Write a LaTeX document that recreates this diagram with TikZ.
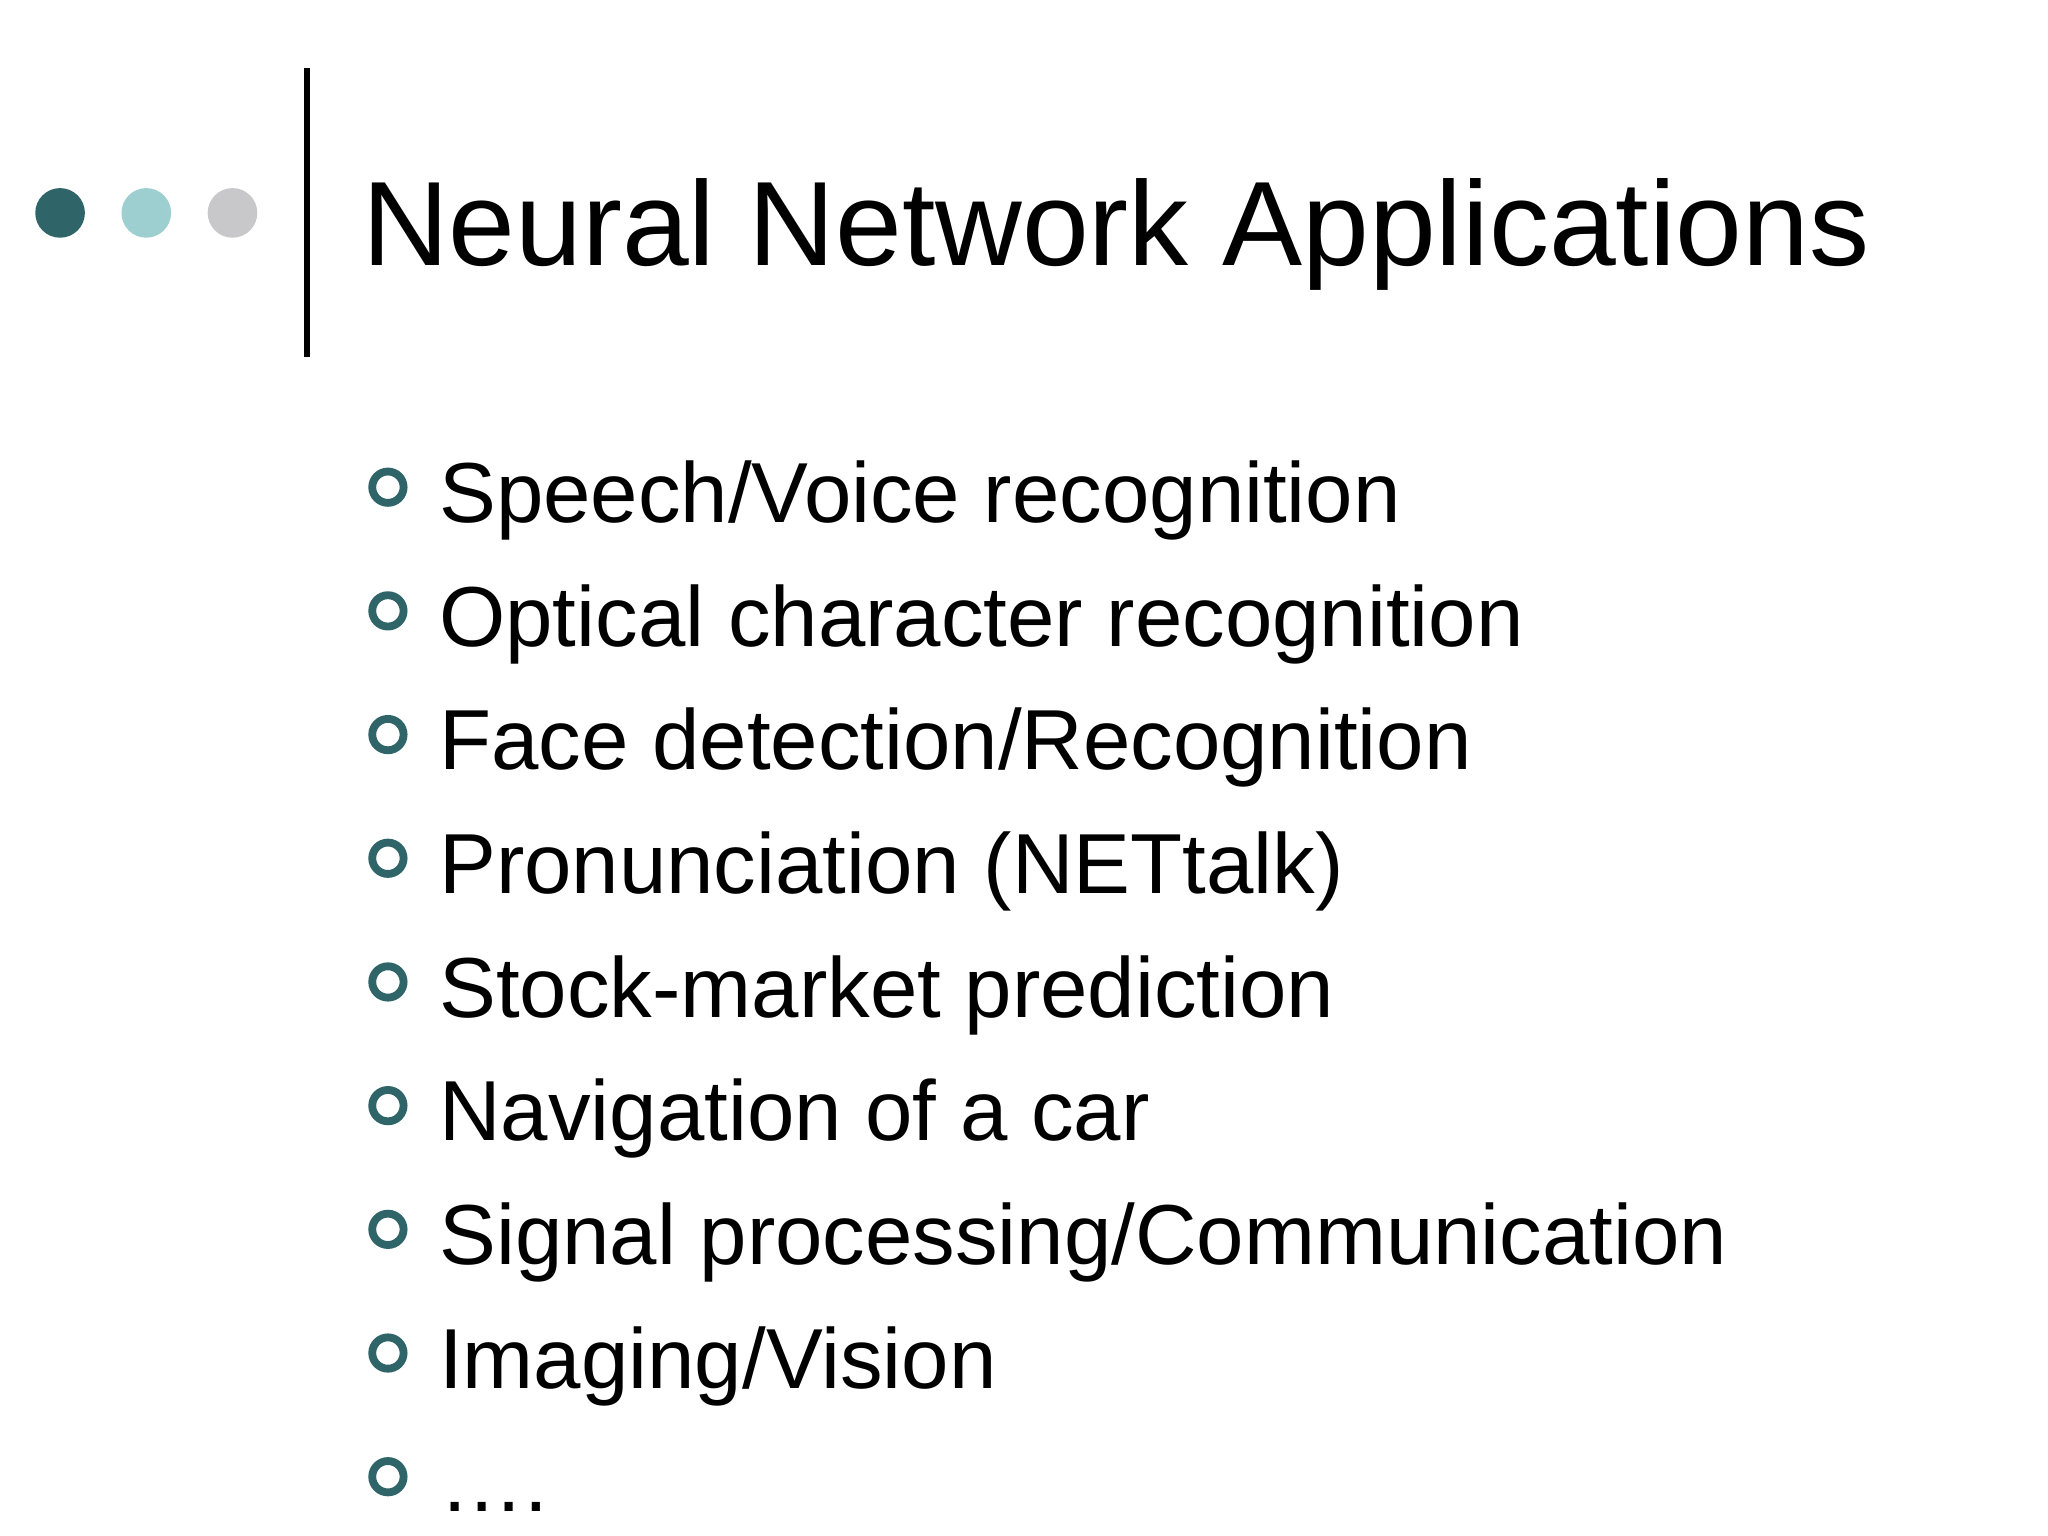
\documentclass[tikz,border=0pt]{standalone}
\usepackage{fontspec}
\setmainfont{Liberation Sans}
\definecolor{teal1}{HTML}{2F6468}
\definecolor{teal2}{HTML}{9DCFD0}
\definecolor{grey1}{HTML}{C8C8CA}
\begin{document}
\begin{tikzpicture}[x=0.653pt,y=-0.653pt,
  dot/.style={circle,inner sep=0pt,minimum size={38*0.653pt}},
  ring/.style={circle,draw=teal1,line width={6*0.653pt},inner sep=0pt,minimum size={24*0.653pt}},
  item/.style={anchor=base west,inner sep=0pt,font=\fontsize{42.6pt}{50pt}\selectfont}]
\path[use as bounding box,fill=white] (0,0) rectangle (1568,1176);
\clip (0,0) rectangle (1568,1176);
\node[dot,fill=teal1] (d1) at (46,163) {};
\node[dot,fill=teal2] (d2) at (112,163) {};
\node[dot,fill=grey1] (d3) at (178,163) {};
\draw[line width={5*0.653pt}] (235,52) -- (235,273);
\node[anchor=base west,inner sep=0pt,font=\fontsize{60pt}{70pt}\selectfont] (t) at (277,203) {Neural Network Applications};
\foreach \i/\s in {0/{Speech/Voice recognition},1/{Optical character recognition},2/{Face detection/Recognition},3/{Pronunciation (NETtalk)},4/{Stock-market prediction},5/{Navigation of a car},6/{Signal processing/Communication},7/{Imaging/Vision},8/{….}}{
  \node[ring] (b\i) at (297,{373+94.7*\i}) {};
  \node[item] (i\i) at (336,{400+94.7*\i}) {\s};
}
\end{tikzpicture}
\end{document}
